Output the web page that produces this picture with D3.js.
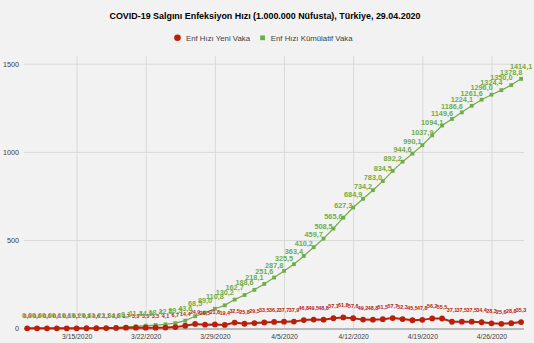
<!DOCTYPE html>
<html>
<head>
<meta charset="utf-8">
<script src="https://cdn.jsdelivr.net/npm/d3@7"></script>
<style>
  html, body { margin: 0; padding: 0; background: #f2f2f2; }
  svg { display: block; }
  text { font-family: "Liberation Sans", Arial, sans-serif; }
</style>
</head>
<body>
<svg id="chart" width="534" height="343"></svg>
<script>
// Daily dates, 10 March - 29 April 2020
const dates = [
  "2020-03-10","2020-03-11","2020-03-12","2020-03-13","2020-03-14","2020-03-15","2020-03-16",
  "2020-03-17","2020-03-18","2020-03-19","2020-03-20","2020-03-21","2020-03-22","2020-03-23",
  "2020-03-24","2020-03-25","2020-03-26","2020-03-27","2020-03-28","2020-03-29","2020-03-30",
  "2020-03-31","2020-04-01","2020-04-02","2020-04-03","2020-04-04","2020-04-05","2020-04-06",
  "2020-04-07","2020-04-08","2020-04-09","2020-04-10","2020-04-11","2020-04-12","2020-04-13",
  "2020-04-14","2020-04-15","2020-04-16","2020-04-17","2020-04-18","2020-04-19","2020-04-20",
  "2020-04-21","2020-04-22","2020-04-23","2020-04-24","2020-04-25","2020-04-26","2020-04-27",
  "2020-04-28","2020-04-29"
];

// New cases per 1,000,000 population
const newRate = [
  0.0, 0.0, 0.0, 0.0, 0.0, 0.1, 0.3,
  0.6, 1.1, 2.0, 3.7, 3.3, 3.5, 3.5,
  4.1, 6.7, 14.4, 24.9, 20.5, 21.8, 19.4,
  32.5, 25.8, 29.5, 33.5, 36.2, 37.7, 37.9,
  46.8, 49.5, 48.8, 57.1, 61.8, 57.6, 49.2,
  48.8, 51.5, 57.7, 52.3, 45.5, 47.8, 56.2,
  55.5, 37.1, 37.5, 37.5, 34.4, 28.3, 25.6,
  28.8, 35.3
];

// Cumulative cases per 1,000,000 population
const cumRate = [
  0.0, 0.0, 0.0, 0.1, 0.1, 0.2, 0.6,
  1.2, 2.3, 4.3, 8.1, 11.4, 14.9, 18.4,
  22.5, 29.3, 43.6, 68.5, 89.0, 110.8, 130.2,
  162.7, 188.6, 218.1, 251.6, 287.8, 325.5, 363.4,
  410.2, 459.7, 508.5, 565.6, 627.3, 684.9, 734.2,
  783.0, 834.5, 892.2, 944.6, 990.1, 1037.9, 1094.1,
  1149.6, 1186.6, 1224.1, 1261.6, 1296.0, 1324.4, 1350.0,
  1378.8, 1414.1
];

const seriesNames = ["Enf Hızı Yeni Vaka", "Enf Hızı Kümülatif Vaka"];
const yTicks = [0, 500, 1000, 1500];
const xTickDates = ["2020-03-15","2020-03-22","2020-03-29","2020-04-05","2020-04-12","2020-04-19","2020-04-26"];
const titleText = "COVID-19 Salgını Enfeksiyon Hızı (1.000.000 Nüfusta), Türkiye, 29.04.2020";

const RED = "#b8200c";
const GREEN = "#70ad47";

const parse = d3.utcParse("%Y-%m-%d");
const days = dates.map(parse);
const trLocale = d3.formatLocale({ decimal: ",", thousands: ".", grouping: [3], currency: ["", " ₺"] });
const fmt = trLocale.format(".1f");
const fmtDate = d3.utcFormat("%-m/%-d/%Y");

const svg = d3.select("#chart");
const W = 534, H = 343;
svg.append("rect").attr("width", W).attr("height", H).attr("fill", "#f2f2f2");

const plot = { left: 24, right: 524, top: 56, bottom: 328.3 };

const x = d3.scaleUtc()
  .domain([days[0], days[days.length - 1]])
  .range([27.2, 521.1]);
const y = d3.scaleLinear()
  .domain([0, 1500])
  .range([plot.bottom, 63.7]);

// Title
svg.append("text")
  .attr("x", 265).attr("y", 18.6)
  .attr("text-anchor", "middle")
  .attr("font-size", 9.5)
  .attr("font-weight", "bold")
  .attr("fill", "#000")
  .attr("textLength", 311)
  .attr("lengthAdjust", "spacingAndGlyphs")
  .text(titleText);

// Horizontal gridlines + y labels
const yAxis = d3.axisLeft(y).tickValues(yTicks).tickSize(-(plot.right - plot.left)).tickFormat(d3.format("d"));
const gy = svg.append("g").attr("transform", `translate(${plot.left},0)`).call(yAxis);
gy.select(".domain").remove();
gy.selectAll(".tick line").attr("stroke", "#d9d9d9").attr("stroke-width", 1);
gy.selectAll(".tick text").attr("x", -5).attr("font-size", 7.2).attr("fill", "#404040")
  .attr("font-family", "'Liberation Sans', Arial, sans-serif");
gy.selectAll(".tick").filter(d => d === 0).select("line").remove();

// Vertical gridlines + x labels
const xAxis = d3.axisBottom(x).tickValues(xTickDates.map(parse)).tickSize(-(plot.bottom - plot.top)).tickFormat(fmtDate);
const gx = svg.append("g").attr("transform", `translate(0,${plot.bottom})`).call(xAxis);
gx.select(".domain").remove();
gx.selectAll(".tick line").attr("stroke", "#d9d9d9").attr("stroke-width", 1);
gx.selectAll(".tick text").attr("y", 6).attr("font-size", 6.8).attr("fill", "#404040")
  .attr("font-family", "'Liberation Sans', Arial, sans-serif");

// Category axis line
svg.append("line")
  .attr("x1", plot.left).attr("x2", plot.right)
  .attr("y1", plot.bottom + 0.7).attr("y2", plot.bottom + 0.7)
  .attr("stroke", "#a6a6a6").attr("stroke-width", 1.4);

const ptsNew = days.map((d, i) => ({ d, v: newRate[i] }));
const ptsCum = days.map((d, i) => ({ d, v: cumRate[i] }));
const line = d3.line().x(p => x(p.d)).y(p => y(p.v));

// Cumulative series
svg.append("path").datum(ptsCum).attr("d", line)
  .attr("fill", "none").attr("stroke", GREEN).attr("stroke-width", 1.2);
svg.append("g").selectAll("rect").data(ptsCum).join("rect")
  .attr("x", p => x(p.d) - 1.9).attr("y", p => y(p.v) - 1.9)
  .attr("width", 3.8).attr("height", 3.8).attr("fill", GREEN);

// New-case series
svg.append("path").datum(ptsNew).attr("d", line)
  .attr("fill", "none").attr("stroke", RED).attr("stroke-width", 2);
svg.append("g").selectAll("circle").data(ptsNew).join("circle")
  .attr("cx", p => x(p.d)).attr("cy", p => y(p.v)).attr("r", 2.9).attr("fill", RED);

// Value labels
svg.append("g").selectAll("text").data(ptsNew).join("text")
  .attr("x", p => x(p.d)).attr("y", p => y(p.v) - 10)
  .attr("text-anchor", "middle").attr("font-size", 5.4).attr("font-weight", "bold")
  .attr("fill", RED).text(p => fmt(p.v));
svg.append("g").selectAll("text").data(ptsCum).join("text")
  .attr("x", p => x(p.d)).attr("y", p => y(p.v) - 10)
  .attr("text-anchor", "middle").attr("font-size", 7.3).attr("font-weight", "bold")
  .attr("fill", GREEN).text(p => fmt(p.v));

// Legend
const legend = svg.append("g").attr("transform", "translate(0,37.8)");
const item1 = legend.append("g");
item1.append("circle").attr("cx", 177.5).attr("cy", 0).attr("r", 3.3).attr("fill", RED);
item1.append("text").attr("x", 186).attr("y", 2.8).attr("font-size", 7.8).attr("fill", "#404040").text(seriesNames[0]);
const item2 = legend.append("g");
item2.append("rect").attr("x", 260.2).attr("y", -2.4).attr("width", 4.8).attr("height", 4.8).attr("fill", GREEN);
item2.append("text").attr("x", 270.8).attr("y", 2.8).attr("font-size", 7.8).attr("fill", "#404040").text(seriesNames[1]);
</script>
</body>
</html>
